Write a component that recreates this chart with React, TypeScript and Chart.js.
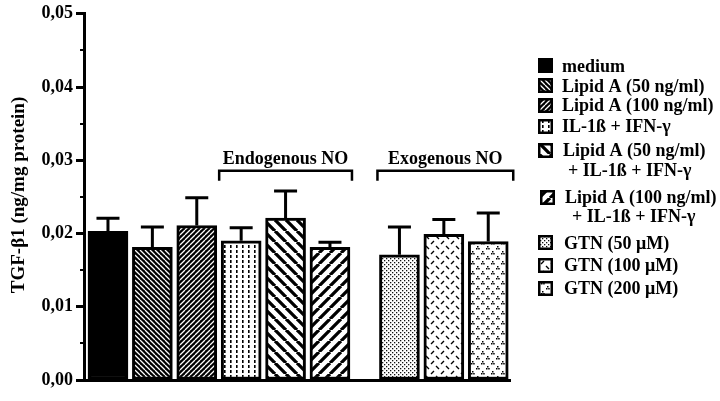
import React, { useEffect, useRef } from 'react';
import { Chart, registerables } from 'chart.js';

Chart.register(...registerables);

// ---- data ----
const LABELS = [
  'medium',
  'Lipid A (50 ng/ml)',
  'Lipid A (100 ng/ml)',
  'IL-1ß + IFN-γ',
  'Lipid A (50 ng/ml) + IL-1ß + IFN-γ',
  'Lipid A (100 ng/ml) + IL-1ß + IFN-γ',
  'GTN (50 μM)',
  'GTN (100 μM)',
  'GTN (200 μM)',
];
const GROUPS = ['control', 'control', 'control', 'endo', 'endo', 'endo', 'exo', 'exo', 'exo'];
const MEANS = [0.0203, 0.0181, 0.0211, 0.019, 0.0221, 0.0181, 0.0171, 0.0199, 0.0189];
const ERRORS = [0.0018, 0.0028, 0.0038, 0.0018, 0.0037, 0.0007, 0.0038, 0.002, 0.0039];
const Y_TICKS = [0, 0.01, 0.02, 0.03, 0.04, 0.05];
const Y_MINOR = [0.005, 0.015, 0.025, 0.035, 0.045];
const GROUP_TITLES: Record<string, string> = { endo: 'Endogenous NO', exo: 'Exogenous NO' };
const LEGEND_LINES = [
  ['medium'],
  ['Lipid A (50 ng/ml)'],
  ['Lipid A (100 ng/ml)'],
  ['IL-1ß + IFN-γ'],
  ['Lipid A (50 ng/ml)', '+ IL-1ß + IFN-γ'],
  ['Lipid A (100 ng/ml)', '+ IL-1ß + IFN-γ'],
  ['GTN (50 μM)'],
  ['GTN (100 μM)'],
  ['GTN (200 μM)'],
];
const Y_TITLE = 'TGF-β1 (ng/mg protein)';

// ---- layout constants ----
const EXO_GAP = 0.565;
const FONT = '"Liberation Serif", "Times New Roman", serif';
const LEGEND_SWATCH_Y = [58, 78, 98, 119, 143, 190, 235, 258, 281];
const LEGEND_SWATCH_X = [538, 538, 538, 538, 538, 540, 538, 538, 538];
const LEGEND_TEXT_Y = [[66], [86], [105], [126], [150, 170], [197, 216], [243], [265], [288]];
const LEGEND_TEXT_X = [[562], [562], [562], [562], [563, 568], [565, 572], [564], [564], [564]];

function tile(w: number, h: number, draw: (g: CanvasRenderingContext2D) => void) {
  const c = document.createElement('canvas');
  c.width = w;
  c.height = h;
  const g = c.getContext('2d')!;
  draw(g);
  return g.createPattern(c, 'repeat') as CanvasPattern;
}

function diag(s: number, bg: string, fg: string, lw: number, back: boolean) {
  return tile(s, s, (g) => {
    g.fillStyle = bg;
    g.fillRect(0, 0, s, s);
    g.strokeStyle = fg;
    g.lineWidth = lw;
    g.beginPath();
    for (const k of [-s, 0, s]) {
      if (back) {
        g.moveTo(k, 0);
        g.lineTo(k + s, s);
      } else {
        g.moveTo(k, s);
        g.lineTo(k + s, 0);
      }
    }
    g.stroke();
  });
}

function makePatterns() {
  const dashCols = tile(6, 5, (g) => {
    g.fillStyle = '#fff';
    g.fillRect(0, 0, 6, 5);
    g.fillStyle = '#000';
    g.fillRect(2, 0, 1.6, 3);
  });
  const stipple = tile(4, 4, (g) => {
    g.fillStyle = '#fff';
    g.fillRect(0, 0, 4, 4);
    g.fillStyle = '#111';
    g.fillRect(0, 0, 1.3, 1.3);
    g.fillRect(2, 2, 1.3, 1.3);
  });
  const dashes = tile(10, 10, (g) => {
    g.fillStyle = '#fff';
    g.fillRect(0, 0, 10, 10);
    g.strokeStyle = '#000';
    g.lineWidth = 1.4;
    g.beginPath();
    g.moveTo(1, 4);
    g.lineTo(4, 1);
    g.moveTo(6, 6);
    g.lineTo(9, 9);
    g.stroke();
  });
  const tri = tile(10, 10, (g) => {
    g.fillStyle = '#fff';
    g.fillRect(0, 0, 10, 10);
    g.fillStyle = '#000';
    const cl = (x: number, y: number) => {
      g.fillRect(x + 1, y, 1.5, 1.5);
      g.fillRect(x, y + 2, 1.5, 1.5);
      g.fillRect(x + 2.2, y + 2, 1.5, 1.5);
    };
    cl(1, 1);
    cl(6, 6);
  });
  return [
    '#000',
    diag(5, '#000', '#fff', 1.3, true),
    diag(5, '#000', '#fff', 1.3, false),
    dashCols,
    diag(11, '#fff', '#000', 3.3, true),
    diag(11, '#fff', '#000', 3.3, false),
    stipple,
    dashes,
    tri,
  ];
}

export default function App() {
  const ref = useRef<HTMLCanvasElement>(null);

  useEffect(() => {
    const canvas = ref.current!;
    const patterns = makePatterns();
    const xIndex = MEANS.map((_, i) => i + (GROUPS[i] === 'exo' ? EXO_GAP : 0));

    const overlay = {
      id: 'overlay',
      afterDatasetsDraw(chart: any) {
        const { ctx, scales } = chart;
        const ys = scales.y;
        const meta = chart.getDatasetMeta(0);
        ctx.save();
        ctx.strokeStyle = '#000';
        ctx.lineWidth = 3;
        ctx.lineCap = 'butt';
        meta.data.forEach((el: any, i: number) => {
          const yCap = ys.getPixelForValue(MEANS[i] + ERRORS[i]);
          ctx.beginPath();
          ctx.moveTo(el.x, el.y);
          ctx.lineTo(el.x, yCap);
          ctx.moveTo(el.x - 11.5, yCap);
          ctx.lineTo(el.x + 11.5, yCap);
          ctx.stroke();
        });
        ctx.restore();
      },
      afterDraw(chart: any) {
        const { ctx, scales, chartArea } = chart;
        const ys = scales.y;
        const meta = chart.getDatasetMeta(0);
        ctx.save();
        // minor ticks
        ctx.strokeStyle = '#000';
        ctx.lineWidth = 2;
        Y_MINOR.forEach((v) => {
          const y = Math.round(ys.getPixelForValue(v));
          ctx.beginPath();
          ctx.moveTo(chartArea.left - 4, y);
          ctx.lineTo(chartArea.left, y);
          ctx.stroke();
        });
        // y-axis title
        ctx.fillStyle = '#000';
        ctx.font = `bold 19px ${FONT}`;
        ctx.textAlign = 'center';
        ctx.textBaseline = 'middle';
        ctx.translate(19, 195);
        ctx.rotate(-Math.PI / 2);
        ctx.fillText(Y_TITLE, 0, 0);
        ctx.setTransform(1, 0, 0, 1, 0, 0);
        // group brackets
        ['endo', 'exo'].forEach((g) => {
          const idx = GROUPS.map((gg, i) => (gg === g ? i : -1)).filter((i) => i >= 0);
          const first = meta.data[idx[0]];
          const last = meta.data[idx[idx.length - 1]];
          const l = first.x - first.width / 2 - 2;
          const r = last.x + last.width / 2 + (g === 'exo' ? 5 : 2);
          const yb = ys.getPixelForValue(0.02857);
          const yt = ys.getPixelForValue(0.0272);
          ctx.strokeStyle = '#000';
          ctx.lineWidth = 2.5;
          ctx.beginPath();
          ctx.moveTo(l, yt);
          ctx.lineTo(l, yb);
          ctx.lineTo(r, yb);
          ctx.lineTo(r, yt);
          ctx.stroke();
          ctx.fillStyle = '#000';
          ctx.font = `bold 18px ${FONT}`;
          ctx.textAlign = 'center';
          ctx.textBaseline = 'alphabetic';
          ctx.fillText(GROUP_TITLES[g], (l + r) / 2, yb - 7);
        });
        // legend
        LABELS.forEach((_, i) => {
          const sx = LEGEND_SWATCH_X[i];
          const sy = LEGEND_SWATCH_Y[i];
          ctx.fillStyle = patterns[i] as any;
          ctx.fillRect(sx, sy, 15, 15);
          ctx.strokeStyle = '#000';
          ctx.lineWidth = 2.5;
          ctx.strokeRect(sx + 1.25, sy + 1.25, 12.5, 12.5);
          ctx.fillStyle = '#000';
          ctx.font = `bold 18px ${FONT}`;
          ctx.textAlign = 'left';
          ctx.textBaseline = 'alphabetic';
          LEGEND_LINES[i].forEach((line, j) => {
            ctx.fillText(line, LEGEND_TEXT_X[i][j], LEGEND_TEXT_Y[i][j] + 6);
          });
        });
        ctx.restore();
      },
    };

    const chart = new Chart(canvas, {
      type: 'bar',
      data: {
        labels: LABELS,
        datasets: [
          {
            data: MEANS.map((v, i) => ({ x: xIndex[i], y: v })) as any,
            backgroundColor: patterns as any,
            borderColor: '#000',
            borderWidth: 3,
            borderSkipped: false,
            barThickness: 40,
          },
        ],
      },
      options: {
        responsive: false,
        animation: false,
        layout: { padding: { left: 0, right: 210, top: 10, bottom: 13 } },
        plugins: { legend: { display: false }, tooltip: { enabled: false } },
        scales: {
          x: {
            type: 'linear',
            min: -0.54,
            max: 9.055,
            grid: { display: false },
            ticks: { display: false },
            border: { display: true, width: 3, color: '#000' },
            afterBuildTicks: (s: any) => {
              s.ticks = [];
            },
          },
          y: {
            min: 0,
            max: 0.05,
            afterBuildTicks: (s: any) => {
              s.ticks = Y_TICKS.map((v) => ({ value: v }));
            },
            afterFit: (s: any) => {
              s.width = 84;
            },
            ticks: {
              color: '#000',
              padding: 3,
              font: { family: FONT, weight: 'bold', size: 18 },
              callback: (v: any) => Number(v).toFixed(2).replace('.', ','),
            },
            grid: {
              display: true,
              drawOnChartArea: false,
              drawTicks: true,
              tickLength: 8,
              tickWidth: 3,
              color: '#000',
            },
            border: { display: true, width: 3, color: '#000' },
          },
        },
      },
      plugins: [overlay],
    });
    return () => chart.destroy();
  }, []);

  return (
    <div style={{ position: 'fixed', left: 0, top: 0, width: 720, height: 401, background: '#fff' }}>
      <canvas ref={ref} width={720} height={401} style={{ display: 'block' }} />
    </div>
  );
}
